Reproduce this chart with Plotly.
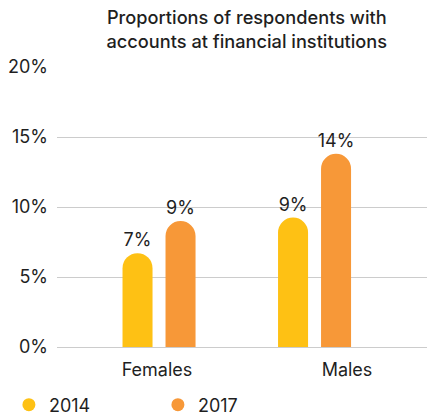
import plotly.graph_objects as go

categories = ["Females", "Males"]
series_names = ["2014", "2017"]
values_2014 = [6.7, 9.25]
values_2017 = [9.0, 13.8]
labels_2014 = ["7%", "9%"]
labels_2017 = ["9%", "14%"]
y_ticks = [0, 5, 10, 15, 20]
y_tick_labels = ["0%", "5%", "10%", "15%", "20%"]

colors = {"2014": "#FEC114", "2017": "#F79838"}
FONT = "Inter"
TXT = "#1f1f1f"
FS = 18

fig = go.Figure()
for name, vals, labs in [("2014", values_2014, labels_2014), ("2017", values_2017, labels_2017)]:
    fig.add_trace(go.Bar(
        x=categories, y=vals, name=name, showlegend=False,
        marker=dict(color=colors[name], cornerradius="50%", line=dict(width=0)),
        text=labs, textposition="outside", cliponaxis=False, constraintext="none",
        textfont=dict(family=FONT, size=FS, color=TXT),
        hoverinfo="skip",
    ))
# invisible trace carrying the category labels axis
fig.add_trace(go.Scatter(
    x=list(range(len(categories))), y=[None] * len(categories), xaxis="x2",
    mode="markers", showlegend=False, hoverinfo="skip",
))
for name in series_names:
    fig.add_trace(go.Scatter(
        x=[None], y=[None], mode="markers", name=name,
        marker=dict(color=colors[name], size=13, symbol="circle"),
    ))

fig.update_layout(
    width=427, height=418,
    margin=dict(l=57, r=0, t=67, b=71, autoexpand=False),
    paper_bgcolor="white", plot_bgcolor="white",
    barmode="group", bargap=0.447, bargroupgap=0.302,
    font=dict(family=FONT, size=FS, color=TXT),
    title=dict(
        text="Proportions of respondents with<br>accounts at financial institutions",
        x=0.578, xanchor="center", y=0.942, yanchor="top",
        font=dict(family=FONT, size=18.2, color=TXT, weight=500),
    ),
    xaxis=dict(
        type="category", range=[-0.656, 1.723], showgrid=False, showline=False,
        zeroline=False, ticks="", showticklabels=False,
    ),
    xaxis2=dict(
        overlaying="x", side="bottom", anchor="y", range=[-0.526, 1.421],
        tickvals=list(range(len(categories))), ticktext=categories,
        showgrid=False, showline=False, zeroline=False, ticks="",
        ticklabelstandoff=10, tickfont=dict(family=FONT, size=FS, color=TXT),
    ),
    yaxis=dict(
        range=[0, 20], tickvals=y_ticks, ticktext=y_tick_labels,
        showgrid=True, gridcolor="#cccccc", gridwidth=1,
        zeroline=True, zerolinecolor="#cccccc", zerolinewidth=1,
        showline=False, ticks="", ticklabelstandoff=8,
        tickfont=dict(family=FONT, size=FS, color=TXT),
    ),
    legend=dict(
        orientation="h", x=-0.13, xanchor="left", y=-0.207, yanchor="middle",
        entrywidth=104, entrywidthmode="pixels", itemwidth=30,
        font=dict(family=FONT, size=FS, color=TXT),
    ),
)

fig.write_html(
    "out.html",
    config={"displayModeBar": False},
    post_script="document.body.style.margin='0';document.body.style.overflow='hidden';",
)
